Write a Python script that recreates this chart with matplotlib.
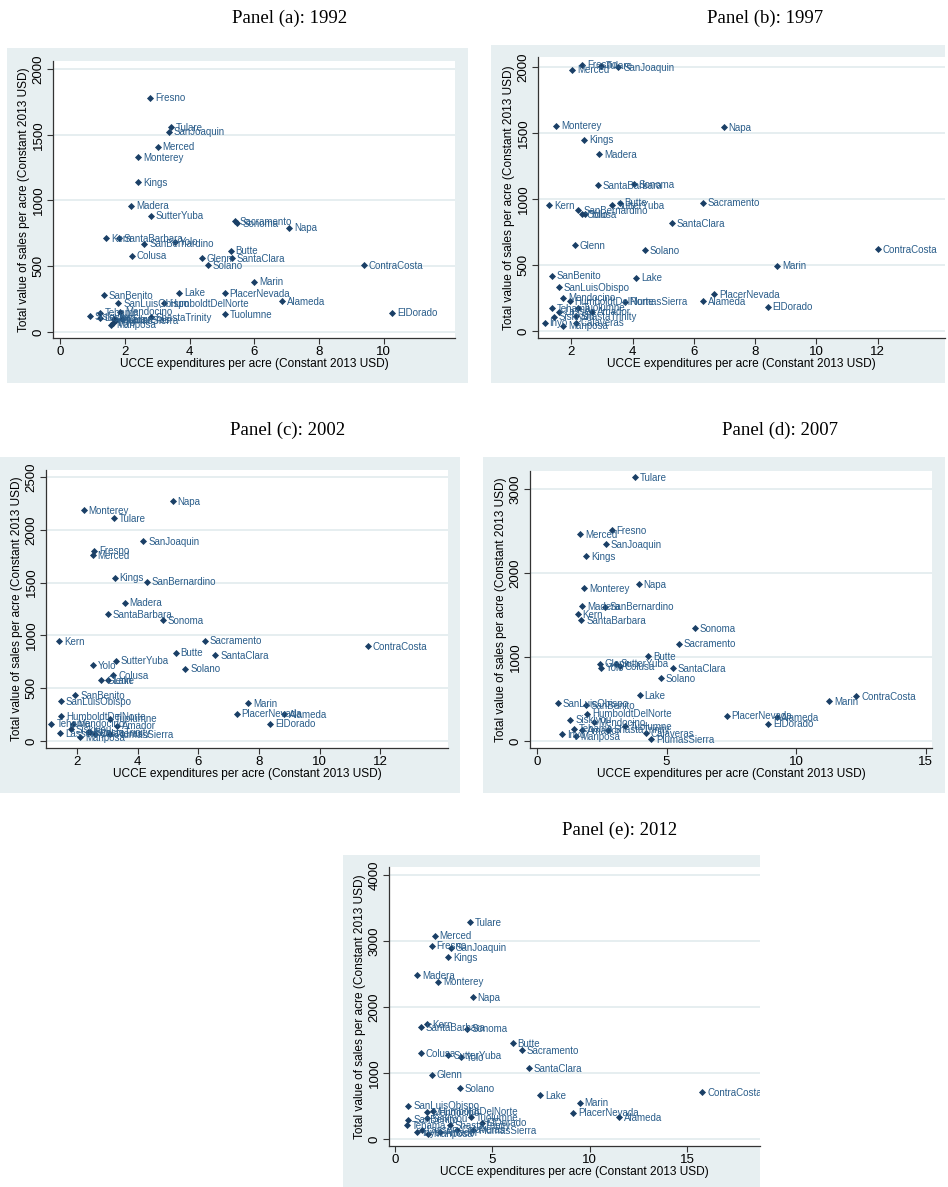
import matplotlib.pyplot as plt
from matplotlib.patches import Rectangle

# ---- data: (county, UCCE spend per acre, sales per acre) ----
names_1992 = ["Fresno", "Tulare", "SanJoaquin", "Merced", "Monterey", "Kings", "Madera",
              "SutterYuba", "Sacramento", "Sonoma", "Napa", "Kern", "SantaBarbara", "Yolo",
              "SanBernardino", "Butte", "Colusa", "Glenn", "SantaClara", "Solano",
              "ContraCosta", "Marin", "Lake", "PlacerNevada", "SanBenito", "SanLuisObispo",
              "HumboldtDelNorte", "Alameda", "ElDorado", "Tuolumne", "ShastaTrinity",
              "Tehama", "Siskiyou", "Lassen", "Mendocino", "Amador", "Calaveras", "Inyo",
              "Mariposa", "PlumasSierra"]
x_1992 = [2.78, 3.43, 3.35, 3.02, 2.42, 2.42, 2.19, 2.81, 5.40, 5.48, 7.07, 1.42, 1.82, 3.55,
          2.60, 5.27, 2.21, 4.37, 5.30, 4.56, 9.39, 6.00, 3.68, 5.09, 1.36, 1.80, 3.22, 6.87,
          10.26, 5.09, 2.80, 1.22, 0.91, 1.22, 1.86, 1.65, 1.90, 1.62, 1.58, 1.72]
y_1992 = [1782, 1557, 1524, 1409, 1331, 1138, 961, 885, 842, 826, 793, 715, 715, 687,
          672, 619, 581, 560, 560, 507, 507, 383, 299, 294, 279, 221, 218, 233,
          147, 137, 110, 147, 122, 108, 155, 95, 100, 70, 55, 88]

names_1997 = ["Fresno", "Tulare", "SanJoaquin", "Merced", "Monterey", "Napa", "Kings", "Madera",
              "SantaBarbara", "Sonoma", "Kern", "Butte", "SutterYuba", "Sacramento",
              "SanBernardino", "Colusa", "Yolo", "SantaClara", "Glenn", "Solano", "ContraCosta",
              "Marin", "SanBenito", "Lake", "SanLuisObispo", "PlacerNevada", "Mendocino",
              "HumboldtDelNorte", "PlumasSierra", "Alameda", "ElDorado", "Tehama", "Tuolumne",
              "ShastaTrinity", "Siskiyou", "Lassen", "Amador", "Inyo", "Calaveras", "Mariposa"]
x_1997 = [2.36, 2.96, 3.53, 2.03, 1.51, 6.97, 2.41, 2.90, 2.87, 4.04, 1.27, 3.58, 3.32, 6.30,
          2.23, 2.34, 2.45, 5.27, 2.12, 4.40, 12.00, 8.73, 1.36, 4.12, 1.58, 6.67, 1.74,
          1.95, 3.74, 6.30, 8.41, 1.36, 2.23, 2.14, 1.43, 1.60, 2.68, 1.13, 2.14, 1.73]
y_1997 = [2017, 2010, 2000, 1979, 1555, 1542, 1449, 1340, 1107, 1115, 951, 973, 951, 973,
          918, 885, 885, 817, 652, 614, 622, 495, 420, 404, 331, 278, 253,
          228, 222, 228, 185, 172, 177, 114, 109, 147, 147, 63, 63, 40]

names_2002 = ["Napa", "Monterey", "Tulare", "SanJoaquin", "Fresno", "Merced", "Kings",
              "SanBernardino", "Madera", "SantaBarbara", "Sonoma", "Kern", "Sacramento",
              "ContraCosta", "Butte", "SantaClara", "SutterYuba", "Yolo", "Solano", "Colusa",
              "Glenn", "Lake", "SanBenito", "SanLuisObispo", "Marin", "PlacerNevada", "Alameda",
              "ElDorado", "HumboldtDelNorte", "Tuolumne", "Tehama", "Mendocino", "Amador",
              "Lassen", "Siskiyou", "ShastaTrinity", "Calaveras", "PlumasSierra", "Mariposa",
              "Inyo"]
x_2002 = [5.15, 2.22, 3.21, 4.18, 2.56, 2.51, 3.24, 4.29, 3.57, 3.02, 4.82, 1.41, 6.21,
          11.60, 5.25, 6.56, 3.28, 2.51, 5.57, 3.19, 2.80, 3.02, 1.94, 1.45, 7.65, 7.26, 8.84,
          8.37, 1.48, 3.08, 1.15, 1.85, 3.32, 1.43, 1.79, 2.42, 2.58, 3.08, 2.09, 2.36]
y_2002 = [2269, 2184, 2111, 1890, 1801, 1763, 1548, 1510, 1310, 1200, 1146, 946, 950,
          899, 836, 813, 760, 718, 684, 624, 576, 576, 434, 380, 361, 260, 253,
          165, 234, 212, 165, 165, 146, 76, 114, 85, 70, 63, 38, 85]

names_2007 = ["Tulare", "Fresno", "Merced", "SanJoaquin", "Kings", "Napa", "Monterey", "Madera",
              "SanBernardino", "Kern", "SantaBarbara", "Sonoma", "Sacramento", "Butte", "Glenn",
              "Yolo", "SutterYuba", "Colusa", "SantaClara", "Solano", "Lake", "ContraCosta",
              "Marin", "SanLuisObispo", "SanBenito", "HumboldtDelNorte", "PlacerNevada",
              "Alameda", "Siskiyou", "Mendocino", "ElDorado", "Tuolumne", "Tehama",
              "ShastaTrinity", "Amador", "Calaveras", "Inyo", "Mariposa", "PlumasSierra"]
x_2007 = [3.79, 2.89, 1.67, 2.66, 1.90, 3.92, 1.83, 1.74, 2.61, 1.57, 1.71, 6.09, 5.49, 4.29,
          2.42, 2.48, 3.05, 3.19, 5.24, 4.78, 3.96, 12.33, 11.27, 0.81, 1.89, 1.93, 7.33,
          9.25, 1.29, 2.19, 8.93, 3.38, 1.44, 2.76, 1.74, 4.20, 0.96, 1.50, 4.41]
y_2007 = [3139, 2512, 2464, 2341, 2202, 1864, 1816, 1609, 1598, 1506, 1439, 1347, 1160, 1009,
          922, 874, 922, 890, 870, 751, 544, 533, 477, 453, 425, 326, 302,
          286, 254, 227, 207, 175, 147, 135, 127, 95, 79, 56, 24]

names_2012 = ["Tulare", "Merced", "Fresno", "SanJoaquin", "Kings", "Madera", "Monterey", "Napa",
              "Kern", "SantaBarbara", "Sonoma", "Butte", "Sacramento", "Colusa", "SutterYuba",
              "Yolo", "SantaClara", "Glenn", "Solano", "ContraCosta", "Lake", "Marin",
              "SanLuisObispo", "PlacerNevada", "Alameda", "HumboldtDelNorte", "Mendocino",
              "Tuolumne", "Siskiyou", "ElDorado", "SanBenito", "Tehama", "Lassen",
              "ShastaTrinity", "Calaveras", "PlumasSierra", "Mariposa", "Inyo", "Amador"]
x_2012 = [3.86, 2.04, 1.89, 2.88, 2.74, 1.15, 2.23, 3.99, 1.65, 1.32, 3.69, 6.05, 6.51, 1.32,
          2.74, 3.39, 6.86, 1.89, 3.34, 15.79, 7.47, 9.48, 0.69, 9.14, 11.49, 1.97, 1.66,
          3.89, 1.63, 4.46, 0.69, 0.60, 1.37, 2.83, 3.17, 4.03, 1.71, 1.15, 2.31]
y_2012 = [3287, 3080, 2928, 2898, 2751, 2483, 2382, 2149, 1745, 1699, 1674, 1451, 1345, 1300,
          1274, 1244, 1077, 976, 774, 713, 668, 551, 506, 400, 329, 420, 410,
          334, 319, 248, 293, 207, 142, 207, 142, 131, 81, 106, 106]

titles = ["Panel (a): 1992", "Panel (b): 1997", "Panel (c): 2002", "Panel (d): 2007",
          "Panel (e): 2012"]

W, H = 948, 1187
BG = "#e7eff1"
MARK = "#1a3f66"
LAB = "#2a5d8a"

fig = plt.figure(figsize=(W / 100, H / 100), dpi=100)
fig.patch.set_facecolor("white")


def fig_box(x0, y0, x1, y1):
    return [x0 / W, 1 - y1 / H, (x1 - x0) / W, (y1 - y0) / H]


panels = [
    # background box, axes box, xlim, ylim, xticks, yticks, title centre
    ((7, 48, 468, 383), (53, 61, 455, 338), (-0.22, 12.2), (-46, 2061),
     range(0, 11, 2), range(0, 2001, 500), (290, 18), names_1992, x_1992, y_1992),
    ((491, 45, 945, 383), (538, 57, 945, 338), (0.91, 14.2), (-53, 2076),
     range(2, 13, 2), range(0, 2001, 500), (765, 18), names_1997, x_1997, y_1997),
    ((0, 457, 460, 793), (46, 470, 448, 748), (0.97, 14.24), (-66, 2566),
     range(2, 13, 2), range(0, 2501, 500), (288, 430), names_2002, x_2002, y_2002),
    ((483, 457, 945, 793), (530, 471, 932, 748), (-0.27, 15.25), (-83, 3214),
     range(0, 16, 5), range(0, 3001, 1000), (780, 430), names_2007, x_2007, y_2007),
    ((343, 855, 760, 1187), (389, 867, 760, 1146), (-0.31, 18.75), (-106, 4121),
     range(0, 16, 5), range(0, 4001, 1000), (620, 830), names_2012, x_2012, y_2012),
]

for (bg, box, xl, yl, xt, yt, tpos, names, xs, ys), title in zip(panels, titles):
    rect = Rectangle((bg[0] / W, 1 - bg[3] / H), (bg[2] - bg[0]) / W, (bg[3] - bg[1]) / H,
                     transform=fig.transFigure, facecolor=BG, edgecolor="none", zorder=-5)
    fig.patches.append(rect)
    fig.text(tpos[0] / W, 1 - tpos[1] / H, title, ha="center", va="center",
             fontsize=13.5, family="Liberation Serif")

    ax = fig.add_axes(fig_box(*box), zorder=2)
    ax.set_facecolor("white")
    ax.set_xlim(*xl)
    ax.set_ylim(*yl)
    ax.set_xticks(list(xt))
    ax.set_yticks(list(yt))
    ax.grid(axis="y", color="#e2ebee", linewidth=1.2)
    ax.set_axisbelow(True)
    for s in ["top", "right"]:
        ax.spines[s].set_visible(False)
    for s in ["left", "bottom"]:
        ax.spines[s].set_color("#333333")
        ax.spines[s].set_linewidth(0.9)
    ax.tick_params(direction="out", length=4, width=0.8, color="#333333",
                   labelsize=9.5, pad=2)
    for lbl in ax.get_xticklabels() + ax.get_yticklabels():
        lbl.set_family("Liberation Sans")
    plt.setp(ax.get_yticklabels(), rotation=90, va="center")
    ax.set_xlabel("UCCE expenditures per acre (Constant 2013 USD)", fontsize=8.6,
                  family="Liberation Sans", labelpad=0)
    ax.set_ylabel("Total value of sales per acre (Constant 2013 USD)", fontsize=8.6,
                  family="Liberation Sans", labelpad=2)

    ax.scatter(xs, ys, marker="D", s=13, color=MARK, linewidths=0, zorder=3, clip_on=False)
    for n, x, y in zip(names, xs, ys):
        t = ax.annotate(n, (x, y), xytext=(3.5, -0.5), textcoords="offset points",
                        ha="left", va="center", fontsize=7, color=LAB,
                        family="Liberation Sans", annotation_clip=False)
        t.set_clip_path(rect)

fig.savefig("out.png", dpi=100, facecolor="white")
